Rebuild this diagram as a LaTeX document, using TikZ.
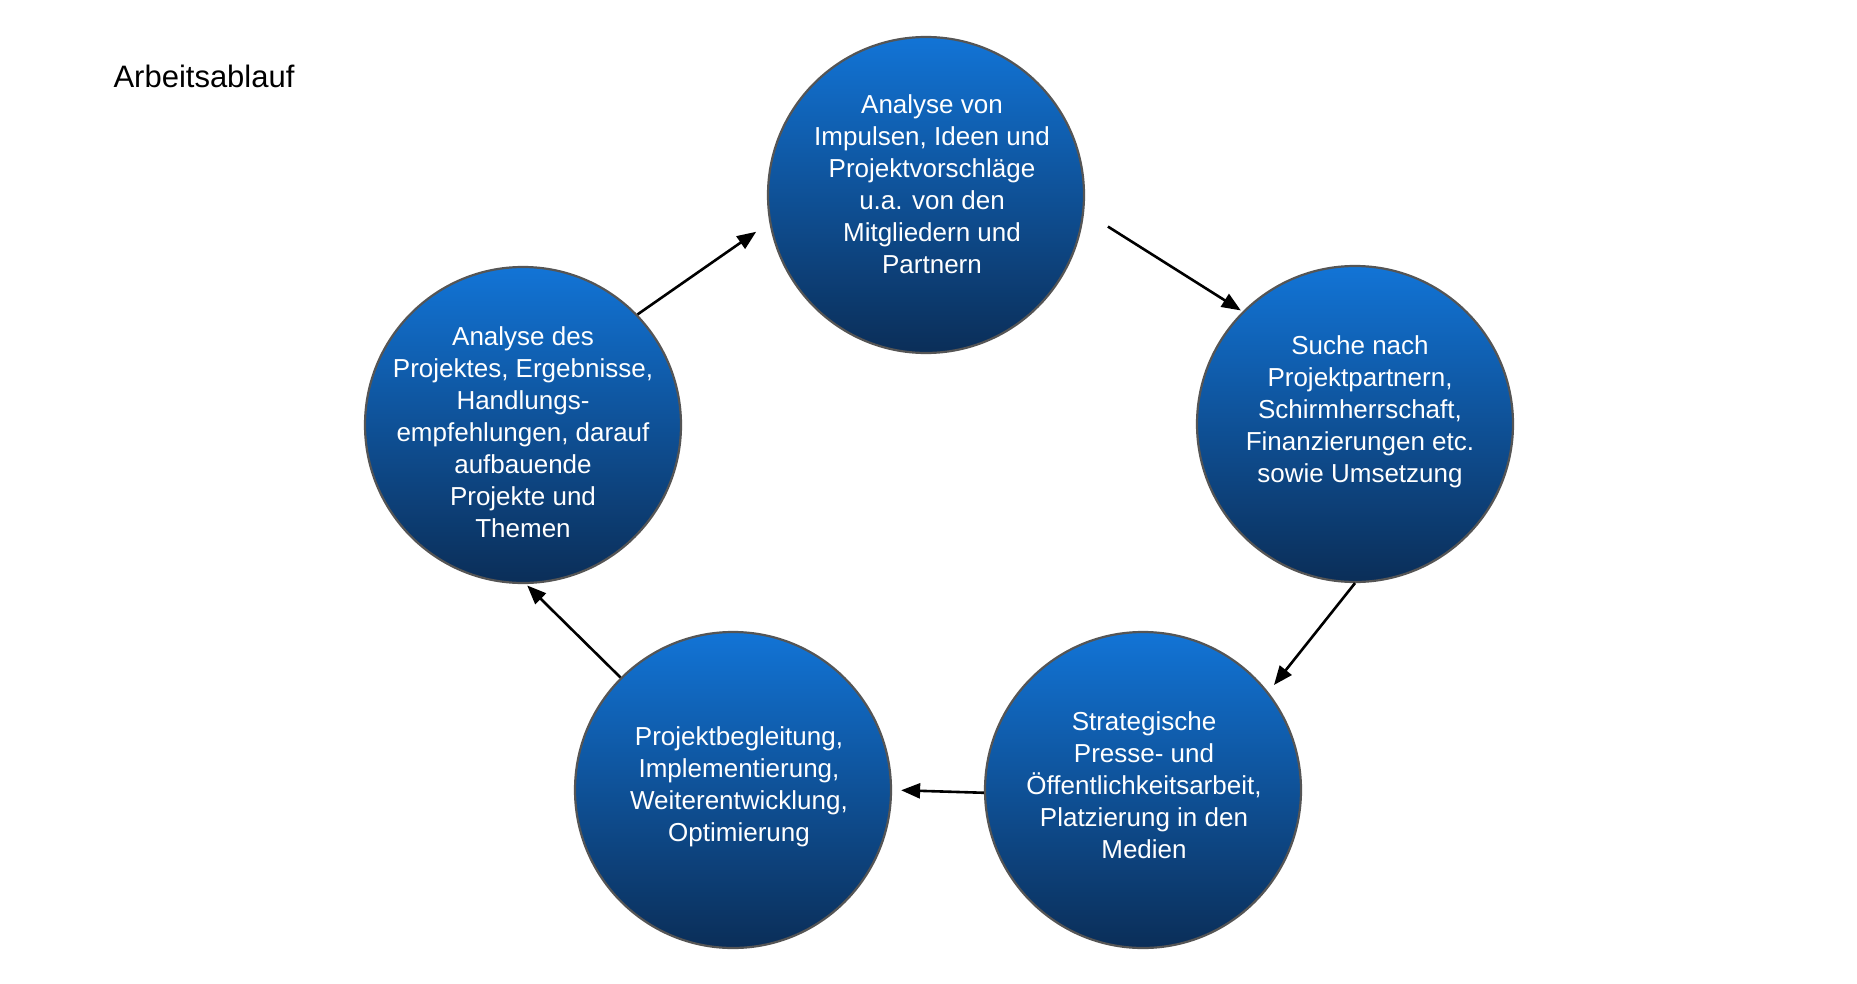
\documentclass[tikz,border=0pt]{standalone}
\usepackage{fontspec}
\setmainfont{Liberation Sans}
\usetikzlibrary{arrows.meta}
\definecolor{circtop}{RGB}{18,116,214}
\definecolor{circbot}{RGB}{11,46,88}
\definecolor{circedge}{RGB}{85,85,85}
\begin{document}
\begin{tikzpicture}[x=1pt,y=-1pt,
  circ/.style={circle,draw=circedge,line width=2.2pt,minimum size=316pt,inner sep=0pt,top color=circtop,bottom color=circbot},
  ctext/.style={text=white,align=center,font=\fontsize{26}{32}\selectfont,inner sep=0pt},
  flow/.style={line width=2.6pt,-{Triangle[length=19pt,width=15pt]}}]
\useasboundingbox[fill=white] (0,0) rectangle (1857,984);
\node[anchor=west,font=\fontsize{31}{36}\selectfont] (title) at (110,76) {Arbeitsablauf};
\node[circ] (top) at (926,195) {};
\node[circ] (right) at (1355,424) {};
\node[circ] (br) at (1143,790) {};
\node[circ] (bl) at (733,790) {};
\node[circ] (left) at (523,425) {};
\node[ctext] (ttop) at (932,184) {Analyse von\\Impulsen, Ideen und\\Projektvorschläge\\u.a. von den\\Mitgliedern und\\Partnern};
\node[ctext] (tright) at (1360,411.5) {Suche nach\\Projektpartnern,\\Schirmherrschaft,\\Finanzierungen etc.\\sowie Umsetzung};
\node[ctext] (tbr) at (1144,785) {Strategische\\Presse- und\\Öffentlichkeitsarbeit,\\Platzierung in den\\Medien};
\node[ctext] (tbl) at (739,786.5) {Projektbegleitung,\\Implementierung,\\Weiterentwicklung,\\Optimierung};
\node[ctext] (tleft) at (523,432) {Analyse des\\Projektes, Ergebnisse,\\Handlungs-\\empfehlungen, darauf\\aufbauende\\Projekte und\\Themen};
\draw[flow,shorten <=28pt,shorten >=2pt] (top.-6) -- (right.135);
\draw[flow,shorten >=9pt] (right.-90) -- (br.38);
\draw[flow,shorten >=9pt] (br.181) -- (bl.0);
\draw[flow,shorten >=2pt] (bl.135) -- (left.-89);
\draw[flow,shorten >=16pt] (left.44) -- (top.190);
\end{tikzpicture}
\end{document}
